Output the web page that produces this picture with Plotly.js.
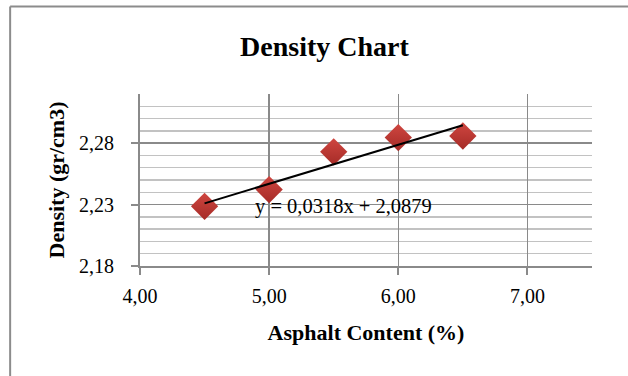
<!DOCTYPE html>
<html>
<head>
<meta charset="utf-8">
<script src="https://cdn.plot.ly/plotly-3.0.1.min.js"></script>
<style>
  html, body { margin: 0; padding: 0; background: #fff; }
  #chart { width: 628px; height: 376px; }
</style>
</head>
<body>
<div id="chart"></div>
<script>
// Asphalt content (%) and measured density (gr/cm3)
const asphaltContent = [4.5, 5.0, 5.5, 6.0, 6.5];
const density = [2.2286, 2.2422, 2.2729, 2.2845, 2.2858];

// Linear trend line coefficients (y = slope * x + intercept)
const trendSlope = 0.0318;
const trendIntercept = 2.0879;
const trendLabel = 'y = 0,0318x + 2,0879';

const xTickValues = [4, 5, 6, 7];
const yTickValues = [2.18, 2.23, 2.28];

const W = 628, H = 376;
const M = { l: 139.5, r: 36, t: 94, b: 110 };
const plotW = W - M.l - M.r;
const plotH = H - M.t - M.b;

// Trend line spans the range of the data
const xMin = Math.min(...asphaltContent);
const xMax = Math.max(...asphaltContent);
const trendX = [xMin, xMax];
const trendY = trendX.map(v => trendSlope * v + trendIntercept);

const serif = 'Liberation Serif, Times New Roman, serif';
const axisGray = '#8a8a8a';

const traces = [
  {
    x: asphaltContent,
    y: density,
    type: 'scatter',
    mode: 'markers',
    marker: {
      symbol: 'diamond',
      size: 21,
      color: '#cf4640',
      gradient: { type: 'vertical', color: '#a52b27' },
      line: { width: 0 }
    },
    hoverinfo: 'x+y'
  },
  {
    x: trendX,
    y: trendY,
    type: 'scatter',
    mode: 'lines',
    line: { color: '#000', width: 2 },
    hoverinfo: 'skip'
  }
];

// Outer frame of the chart area (top and left edges)
const px2x = p => (p - M.l) / plotW;
const py2y = p => (H - M.b - p) / plotH;

const layout = {
  width: W,
  height: H,
  margin: M,
  paper_bgcolor: '#fff',
  plot_bgcolor: '#fff',
  showlegend: false,
  separators: ',.',
  font: { family: serif, color: '#000', size: 20 },
  title: {
    text: '<b>Density Chart</b>',
    font: { family: serif, size: 28, color: '#000' },
    x: 324.5 / W, xref: 'container', xanchor: 'center',
    y: 1 - 46 / H, yref: 'container', yanchor: 'middle'
  },
  xaxis: {
    range: [4, 7.5],
    tickvals: xTickValues,
    tickformat: '.2f',
    showgrid: true,
    gridcolor: axisGray,
    gridwidth: 1.5,
    zeroline: false,
    showline: true,
    linecolor: axisGray,
    linewidth: 2,
    ticks: 'outside',
    ticklen: 7,
    tickwidth: 2,
    tickcolor: axisGray,
    tickfont: { family: serif, size: 20, color: '#000' },
    ticklabelstandoff: 4,
    automargin: false,
    title: {
      text: '<b>Asphalt Content (%)</b>',
      font: { family: serif, size: 22, color: '#000' },
      standoff: 19
    }
  },
  yaxis: {
    range: [2.18, 2.32],
    tickvals: yTickValues,
    tickformat: '.2f',
    showgrid: true,
    gridcolor: axisGray,
    gridwidth: 1.5,
    minor: {
      tick0: 2.18,
      dtick: 0.01,
      showgrid: true,
      gridcolor: '#c2c2c2',
      gridwidth: 1.5,
      ticks: ''
    },
    zeroline: false,
    showline: true,
    linecolor: axisGray,
    linewidth: 2,
    ticks: 'outside',
    ticklen: 7,
    tickwidth: 2,
    tickcolor: axisGray,
    tickfont: { family: serif, size: 20, color: '#000' },
    ticklabelstandoff: 13,
    automargin: false,
    title: {
      text: '<b>Density (gr/cm3)</b>',
      font: { family: serif, size: 22, color: '#000' },
      standoff: 8
    }
  },
  annotations: [
    {
      x: 5.574,
      y: trendSlope * 4.5 + trendIntercept - 0.0022,
      xref: 'x', yref: 'y',
      text: trendLabel,
      showarrow: false,
      font: { family: serif, size: 20.5, color: '#000' },
      xanchor: 'center', yanchor: 'middle'
    }
  ],
  shapes: [
    {
      type: 'line', xref: 'paper', yref: 'paper',
      x0: px2x(9.5), x1: px2x(W + 2), y0: py2y(6.5), y1: py2y(6.5),
      line: { color: '#8c8c8c', width: 2 }
    },
    {
      type: 'line', xref: 'paper', yref: 'paper',
      x0: px2x(9.5), x1: px2x(9.5), y0: py2y(6.5), y1: py2y(H + 2),
      line: { color: '#8c8c8c', width: 2 }
    }
  ]
};

Plotly.newPlot('chart', traces, layout, { displayModeBar: false, staticPlot: true });
</script>
</body>
</html>
